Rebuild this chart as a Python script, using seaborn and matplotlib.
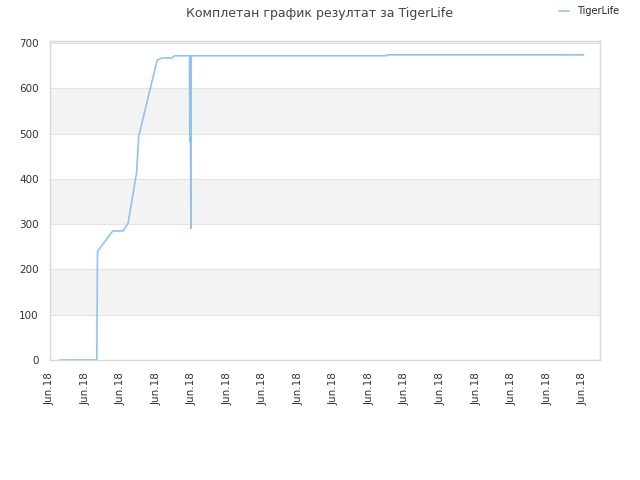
import numpy as np
import pandas as pd
import matplotlib
matplotlib.use("Agg")
import matplotlib.pyplot as plt
import seaborn as sns

# x positions in tick units (one tick label per unit), score values
x_pos = [0.28, 1.32, 1.34, 1.77, 2.06, 2.20, 2.44, 2.50, 3.02, 3.15, 3.43, 3.52,
         3.93, 3.94, 3.95, 3.97, 3.98, 9.49, 9.51, 15.03]
score = [0, 0, 240, 285, 285, 302, 413, 494, 662, 667, 667, 672,
         672, 482, 672, 291, 672, 672, 674, 674]
tick_labels = ["Jun.18"] * 16
y_ticks = [0, 100, 200, 300, 400, 500, 600, 700]

df = pd.DataFrame({"x": x_pos, "score": score})

sns.set_style("white")
plt.rcParams['font.family'] = ['DejaVu Sans']

fig = plt.figure(figsize=(6.4, 4.8), dpi=100)
ax = fig.add_axes([0.078, 0.25, 0.8595, 0.665])

# alternating bands
for i, lo in enumerate(y_ticks[:-1]):
    if i % 2 == 1:
        ax.axhspan(lo, lo + 100, color="#f3f3f3", zorder=0, lw=0)
ax.axhspan(700, 710, color="#f3f3f3", zorder=0, lw=0)
for y in y_ticks:
    ax.axhline(y, color="#e3e3e3", lw=0.8, zorder=1)

sns.lineplot(data=df, x="x", y="score", sort=False, estimator=None, ax=ax,
             color="#90c3f2", lw=1.2, label="TigerLife", zorder=3)

ax.set_xlim(0, 15.49)
ax.set_ylim(0, 705)
ax.set_xticks(range(len(tick_labels)))
ax.set_xticklabels(tick_labels, rotation=90, fontsize=7.5, color="#333333")
ax.set_yticks(y_ticks)
ax.set_yticklabels([str(v) for v in y_ticks], fontsize=7.5, color="#333333")
ax.tick_params(axis="x", length=0, pad=9)
ax.tick_params(axis="y", length=0, pad=8)
ax.set_xlabel("")
ax.set_ylabel("")
for s in ax.spines.values():
    s.set_color("#d8d8d8")
    s.set_linewidth(1)

fig.suptitle("Комплетан график резултат за TigerLife", fontsize=9, color="#444444", y=0.985)
ax.legend(loc="upper right", bbox_to_anchor=(1.05, 1.135), frameon=False,
          fontsize=7, handlelength=1.0, labelcolor="#222222")

fig.savefig("out.png", dpi=100)
